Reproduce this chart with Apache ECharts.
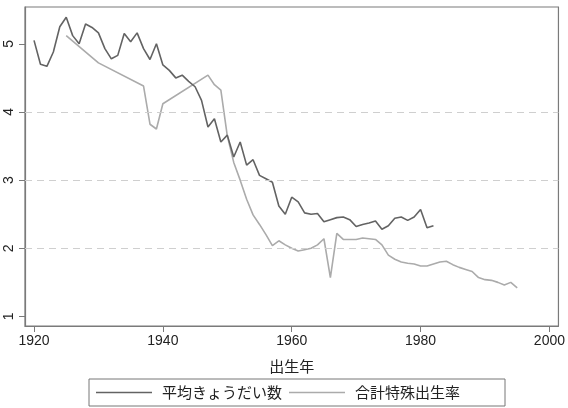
<!DOCTYPE html>
<html>
<head>
<meta charset="utf-8">
<script src="https://cdn.jsdelivr.net/npm/echarts@6/dist/echarts.min.js"></script>
<style>html,body{margin:0;padding:0;background:#fff}#c{width:568px;height:408px}</style>
</head>
<body>
<div id="c"></div>
<script>
const sibYears = [1920,1921,1922,1923,1924,1925,1926,1927,1928,1929,1930,1931,1932,1933,1934,1935,1936,1937,1938,1939,1940,1941,1942,1943,1944,1945,1946,1947,1948,1949,1950,1951,1952,1953,1954,1955,1956,1957,1958,1959,1960,1961,1962,1963,1964,1965,1966,1967,1968,1969,1970,1971,1972,1973,1974,1975,1976,1977,1978,1979,1980,1981,1982];
const sibValues = [5.05,4.70,4.67,4.88,5.25,5.39,5.12,5.00,5.29,5.24,5.16,4.93,4.78,4.83,5.15,5.03,5.16,4.93,4.77,5.00,4.69,4.61,4.50,4.54,4.45,4.37,4.17,3.78,3.90,3.56,3.66,3.34,3.56,3.22,3.30,3.07,3.02,2.97,2.62,2.50,2.75,2.68,2.52,2.50,2.51,2.39,2.42,2.45,2.46,2.42,2.32,2.35,2.37,2.40,2.28,2.33,2.44,2.46,2.41,2.46,2.57,2.30,2.33];
const tfrYears = [1925,1930,1937,1938,1939,1940,1947,1948,1949,1950,1951,1952,1953,1954,1955,1956,1957,1958,1959,1960,1961,1962,1963,1964,1965,1966,1967,1968,1969,1970,1971,1972,1973,1974,1975,1976,1977,1978,1979,1980,1981,1982,1983,1984,1985,1986,1987,1988,1989,1990,1991,1992,1993,1994,1995];
const tfrValues = [5.12,4.72,4.38,3.82,3.75,4.12,4.54,4.40,4.32,3.65,3.26,3.00,2.72,2.49,2.35,2.20,2.04,2.11,2.05,2.00,1.96,1.98,2.00,2.05,2.14,1.57,2.22,2.13,2.13,2.13,2.15,2.14,2.13,2.05,1.90,1.84,1.80,1.78,1.77,1.74,1.74,1.77,1.80,1.81,1.76,1.72,1.69,1.66,1.57,1.54,1.53,1.50,1.46,1.50,1.42];
const xTicks = [1920,1940,1960,1980,2000];
const yTicks = [1,2,3,4,5];
const gridLines = [2,3,4];
const seriesNames = ['平均きょうだい数','合計特殊出生率'];
const xTitle = '出生年';

const numFont = 'Liberation Sans, Arial, sans-serif';
const cjkFont = 'Noto Sans CJK JP, sans-serif';
const darkColor = '#636363';
const lightColor = '#ababab';

const chart = echarts.init(document.getElementById('c'), null, {renderer:'canvas'});
chart.setOption({
  animation:false,
  backgroundColor:'#ffffff',
  grid:{left:25, top:7, right:8, bottom:82, show:true, borderColor:'#7a7a7a', borderWidth:1.2, backgroundColor:'#ffffff'},
  xAxis:{
    type:'value', min:1918.6, max:2001.4,
    axisLine:{show:true, lineStyle:{color:'#7a7a7a', width:1.2}},
    axisTick:{show:true, length:6, customValues:xTicks, lineStyle:{color:'#7a7a7a'}},
    axisLabel:{customValues:xTicks, margin:8, color:'#222', fontSize:14, fontFamily:numFont,
      formatter:v=>String(Math.round(v))},
    splitLine:{show:false},
    name:xTitle, nameLocation:'middle', nameGap:33,
    nameTextStyle:{color:'#222', fontSize:15, fontFamily:cjkFont}
  },
  yAxis:{
    type:'value', min:0.86, max:5.54,
    axisLine:{show:true, lineStyle:{color:'#7a7a7a', width:1.2}},
    axisTick:{show:true, length:6, customValues:yTicks, lineStyle:{color:'#7a7a7a'}},
    axisLabel:{customValues:yTicks, rotate:90, margin:9, color:'#222', fontSize:14, fontFamily:numFont,
      formatter:v=>String(Math.round(v))},
    splitLine:{show:false}
  },
  legend:{
    left:89, top:379,
    orient:'horizontal',
    borderColor:'#777', borderWidth:1,
    padding:[6,45,6,7],
    icon:'rect',
    itemWidth:56, itemHeight:1.5, itemGap:7,
    textStyle:{color:'#222', fontSize:15, fontFamily:cjkFont, padding:[0,0,0,5]},
    data:[{name:seriesNames[0], itemStyle:{color:darkColor}}, {name:seriesNames[1], itemStyle:{color:lightColor}}]
  },
  series:[
    {
      name:seriesNames[0], type:'line', symbol:'none', showSymbol:false,
      data:sibYears.map((y,i)=>[y,sibValues[i]]),
      lineStyle:{color:darkColor, width:1.6}, itemStyle:{color:darkColor},
      z:3,
      markLine:{silent:true, symbol:'none', label:{show:false},
        lineStyle:{color:'#cfcfcf', type:[7,5], width:1},
        data:gridLines.map(v=>({yAxis:v}))}
    },
    {
      name:seriesNames[1], type:'line', symbol:'none', showSymbol:false,
      data:tfrYears.map((y,i)=>[y,tfrValues[i]]),
      lineStyle:{color:lightColor, width:1.6}, itemStyle:{color:lightColor},
      z:2
    }
  ]
});
</script>
</body>
</html>
